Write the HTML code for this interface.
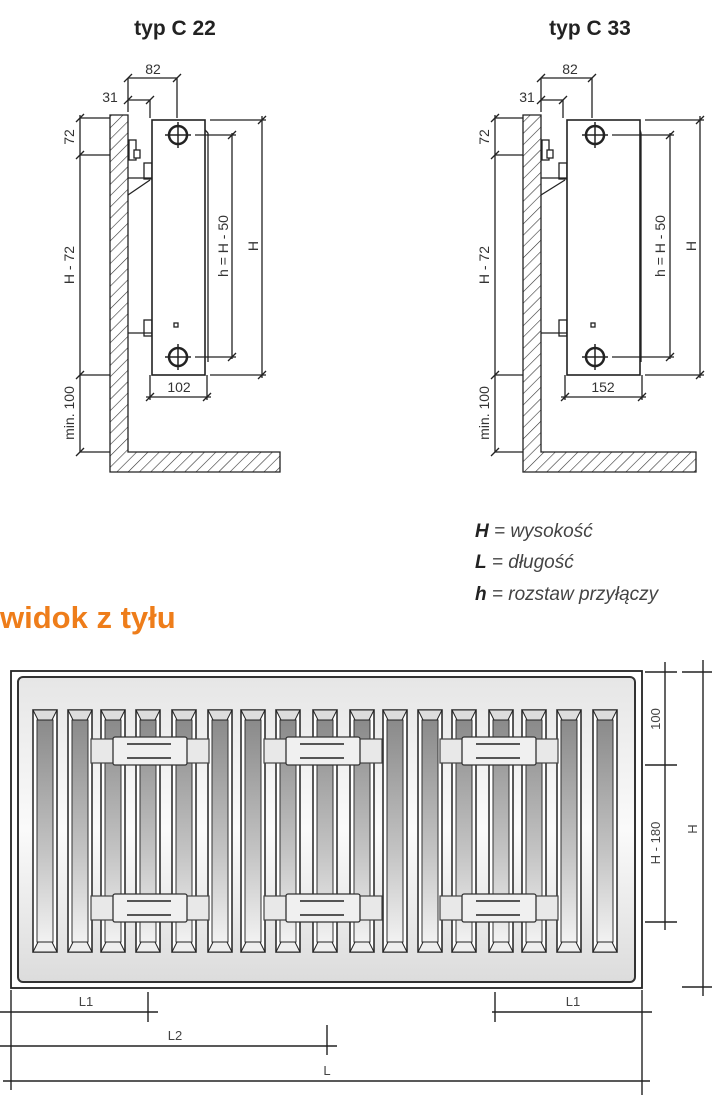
<!DOCTYPE html>
<html><head><meta charset="utf-8"><style>
html,body{margin:0;padding:0;background:#fff;}
svg{display:block;}
</style></head><body>
<svg width="720" height="1097" viewBox="0 0 720 1097" xmlns="http://www.w3.org/2000/svg">
<defs>
<pattern id="hatch" patternUnits="userSpaceOnUse" width="8" height="8" patternTransform="rotate(45)">
<line x1="0" y1="0" x2="0" y2="8" stroke="#333" stroke-width="1.2"/>
</pattern>
<linearGradient id="fin" x1="0" y1="0" x2="0" y2="1">
<stop offset="0" stop-color="#8a8a8a"/><stop offset="0.6" stop-color="#c4c4c4"/><stop offset="1" stop-color="#f2f2f2"/>
</linearGradient>
<linearGradient id="panel" x1="0" y1="0" x2="0" y2="1">
<stop offset="0" stop-color="#e6e6e6"/><stop offset="0.5" stop-color="#fafafa"/><stop offset="1" stop-color="#dcdcdc"/>
</linearGradient>
<symbol id="finS" overflow="visible">
<rect x="0" y="0" width="24" height="242" fill="#fff" stroke="#222" stroke-width="1.5"/>
<rect x="4" y="10" width="16" height="222" fill="url(#fin)" stroke="#333" stroke-width="1"/>
<path d="M0,0 L24,0 L19,10 L5,10 Z" fill="#ddd" stroke="#222" stroke-width="1"/>
<path d="M0,242 L24,242 L19,232 L5,232 Z" fill="#eee" stroke="#222" stroke-width="1"/>
</symbol>
<symbol id="brk" overflow="visible">
<rect x="0" y="2" width="118" height="24" fill="#e8e8e8" stroke="#444" stroke-width="1.2"/>
<rect x="22" y="0" width="74" height="28" rx="2" fill="#f0f0f0" stroke="#333" stroke-width="1.3"/>
<line x1="36" y1="7" x2="80" y2="7" stroke="#222" stroke-width="1.5"/>
<line x1="36" y1="21" x2="80" y2="21" stroke="#222" stroke-width="1.5"/>
</symbol>
<symbol id="pipe" overflow="visible">
<circle cx="0" cy="0" r="9" fill="none" stroke="#222" stroke-width="2.5"/>
<line x1="-13" y1="0" x2="13" y2="0" stroke="#222" stroke-width="1.5"/>
<line x1="0" y1="-13" x2="0" y2="13" stroke="#222" stroke-width="1.5"/>
</symbol>
</defs>

<g font-family="Liberation Sans, DejaVu Sans, sans-serif">
<text x="175" y="35" text-anchor="middle" font-size="21" font-weight="bold" fill="#222">typ C 22</text>
<text x="590" y="35" text-anchor="middle" font-size="21" font-weight="bold" fill="#222">typ C 33</text>
</g>

<g stroke="#222" stroke-width="1.3" fill="none" font-family="Liberation Sans, sans-serif">
<path d="M110,115 L128,115 L128,452 L280,452 L280,472 L110,472 Z" fill="url(#hatch)" stroke="#222"/>
<rect x="129" y="140" width="7" height="20" fill="#fff"/>
<rect x="134" y="150" width="6" height="8" fill="#fff"/>
<rect x="144" y="163" width="8" height="16" fill="#fff"/>
<line x1="128" y1="178" x2="152" y2="178"/>
<line x1="128" y1="195" x2="150" y2="180"/>
<rect x="144" y="320" width="8" height="16" fill="#fff"/>
<line x1="128" y1="333" x2="152" y2="333"/>
<rect x="152" y="120" width="53" height="255" fill="#fff" stroke-width="1.6"/>
<line x1="205" y1="130" x2="208" y2="133"/><line x1="208" y1="133" x2="208" y2="362"/>
<use href="#pipe" x="178" y="135"/>
<use href="#pipe" x="178" y="357"/>
<rect x="174" y="323" width="4" height="4"/>
<line x1="128" y1="78" x2="177" y2="78"/><line x1="128" y1="78" x2="128" y2="112"/><line x1="177" y1="78" x2="177" y2="118"/>
<line x1="124" y1="82" x2="132" y2="74"/><line x1="173" y1="82" x2="181" y2="74"/>
<line x1="128" y1="100" x2="150" y2="100"/><line x1="150" y1="100" x2="150" y2="118"/>
<line x1="124" y1="104" x2="132" y2="96"/><line x1="146" y1="104" x2="154" y2="96"/>
<line x1="80" y1="115" x2="80" y2="452"/>
<line x1="80" y1="118" x2="110" y2="118"/><line x1="80" y1="155" x2="110" y2="155"/>
<line x1="80" y1="375" x2="110" y2="375"/><line x1="80" y1="452" x2="110" y2="452"/>
<line x1="76" y1="122" x2="84" y2="114"/><line x1="76" y1="159" x2="84" y2="151"/>
<line x1="76" y1="379" x2="84" y2="371"/><line x1="76" y1="456" x2="84" y2="448"/>
<line x1="210" y1="120" x2="266" y2="120"/><line x1="262" y1="116" x2="262" y2="378"/><line x1="210" y1="375" x2="266" y2="375"/>
<line x1="258" y1="124" x2="266" y2="116"/><line x1="258" y1="379" x2="266" y2="371"/>
<line x1="195" y1="135" x2="236" y2="135"/><line x1="232" y1="133" x2="232" y2="359"/><line x1="195" y1="357" x2="236" y2="357"/>
<line x1="228" y1="139" x2="236" y2="131"/><line x1="228" y1="361" x2="236" y2="353"/>
<line x1="150" y1="375" x2="150" y2="400"/><line x1="207" y1="375" x2="207" y2="400"/><line x1="146" y1="397" x2="211" y2="397"/>
<line x1="146" y1="401" x2="154" y2="393"/><line x1="203" y1="401" x2="211" y2="393"/>
</g>
<g font-family="Liberation Sans, sans-serif" font-size="14" fill="#333">
<text x="153" y="74" text-anchor="middle">82</text>
<text x="110" y="102" text-anchor="middle">31</text>
<text x="179" y="392" text-anchor="middle">102</text>
<text transform="translate(74,137) rotate(-90)" text-anchor="middle">72</text>
<text transform="translate(74,265) rotate(-90)" text-anchor="middle">H - 72</text>
<text transform="translate(74,413) rotate(-90)" text-anchor="middle">min. 100</text>
<text transform="translate(228,246) rotate(-90)" text-anchor="middle">h = H - 50</text>
<text transform="translate(258,246) rotate(-90)" text-anchor="middle">H</text>
</g>

<g stroke="#222" stroke-width="1.3" fill="none" font-family="Liberation Sans, sans-serif">
<path d="M523,115 L541,115 L541,452 L696,452 L696,472 L523,472 Z" fill="url(#hatch)" stroke="#222"/>
<rect x="542" y="140" width="7" height="20" fill="#fff"/>
<rect x="547" y="150" width="6" height="8" fill="#fff"/>
<rect x="559" y="163" width="8" height="16" fill="#fff"/>
<line x1="541" y1="178" x2="567" y2="178"/>
<line x1="541" y1="195" x2="565" y2="180"/>
<rect x="559" y="320" width="8" height="16" fill="#fff"/>
<line x1="541" y1="333" x2="567" y2="333"/>
<rect x="567" y="120" width="73" height="255" fill="#fff" stroke-width="1.6"/>
<line x1="640" y1="130" x2="641" y2="133"/><line x1="641" y1="133" x2="641" y2="362"/>
<use href="#pipe" x="595" y="135"/>
<use href="#pipe" x="595" y="357"/>
<rect x="591" y="323" width="4" height="4"/>
<line x1="541" y1="78" x2="592" y2="78"/><line x1="541" y1="78" x2="541" y2="112"/><line x1="592" y1="78" x2="592" y2="118"/>
<line x1="537" y1="82" x2="545" y2="74"/><line x1="588" y1="82" x2="596" y2="74"/>
<line x1="541" y1="100" x2="563" y2="100"/><line x1="563" y1="100" x2="563" y2="118"/>
<line x1="537" y1="104" x2="545" y2="96"/><line x1="559" y1="104" x2="567" y2="96"/>
<line x1="495" y1="115" x2="495" y2="452"/>
<line x1="495" y1="118" x2="523" y2="118"/><line x1="495" y1="155" x2="523" y2="155"/>
<line x1="495" y1="375" x2="523" y2="375"/><line x1="495" y1="452" x2="523" y2="452"/>
<line x1="491" y1="122" x2="499" y2="114"/><line x1="491" y1="159" x2="499" y2="151"/>
<line x1="491" y1="379" x2="499" y2="371"/><line x1="491" y1="456" x2="499" y2="448"/>
<line x1="645" y1="120" x2="704" y2="120"/><line x1="700" y1="116" x2="700" y2="378"/><line x1="645" y1="375" x2="704" y2="375"/>
<line x1="696" y1="124" x2="704" y2="116"/><line x1="696" y1="379" x2="704" y2="371"/>
<line x1="612" y1="135" x2="674" y2="135"/><line x1="670" y1="133" x2="670" y2="359"/><line x1="612" y1="357" x2="674" y2="357"/>
<line x1="666" y1="139" x2="674" y2="131"/><line x1="666" y1="361" x2="674" y2="353"/>
<line x1="565" y1="375" x2="565" y2="400"/><line x1="642" y1="375" x2="642" y2="400"/><line x1="561" y1="397" x2="646" y2="397"/>
<line x1="561" y1="401" x2="569" y2="393"/><line x1="638" y1="401" x2="646" y2="393"/>
</g>
<g font-family="Liberation Sans, sans-serif" font-size="14" fill="#333">
<text x="570" y="74" text-anchor="middle">82</text>
<text x="527" y="102" text-anchor="middle">31</text>
<text x="603" y="392" text-anchor="middle">152</text>
<text transform="translate(489,137) rotate(-90)" text-anchor="middle">72</text>
<text transform="translate(489,265) rotate(-90)" text-anchor="middle">H - 72</text>
<text transform="translate(489,413) rotate(-90)" text-anchor="middle">min. 100</text>
<text transform="translate(665,246) rotate(-90)" text-anchor="middle">h = H - 50</text>
<text transform="translate(696,246) rotate(-90)" text-anchor="middle">H</text>
</g>

<g font-family="Liberation Sans, sans-serif" font-size="19" font-style="italic" fill="#444">
<text x="475" y="537"><tspan font-weight="bold" fill="#222">H</tspan> = wysokość</text>
<text x="475" y="568"><tspan font-weight="bold" fill="#222">L</tspan> = długość</text>
<text x="475" y="600"><tspan font-weight="bold" fill="#222">h</tspan> = rozstaw przyłączy</text>
</g>
<text x="0" y="628" font-family="Liberation Sans, sans-serif" font-size="31" font-weight="bold" fill="#ee7d1a">widok z tyłu</text>

<rect x="11" y="671" width="631" height="317" fill="#fff" stroke="#222" stroke-width="1.8"/>
<rect x="18" y="677" width="617" height="305" rx="5" fill="url(#panel)" stroke="#333" stroke-width="2"/>
<g>
<use href="#finS" x="33" y="710"/><use href="#finS" x="68" y="710"/><use href="#finS" x="101" y="710"/>
<use href="#finS" x="136" y="710"/><use href="#finS" x="172" y="710"/><use href="#finS" x="208" y="710"/>
<use href="#finS" x="241" y="710"/><use href="#finS" x="276" y="710"/><use href="#finS" x="313" y="710"/>
<use href="#finS" x="350" y="710"/><use href="#finS" x="383" y="710"/><use href="#finS" x="418" y="710"/>
<use href="#finS" x="452" y="710"/><use href="#finS" x="489" y="710"/><use href="#finS" x="522" y="710"/>
<use href="#finS" x="557" y="710"/><use href="#finS" x="593" y="710"/>
</g>
<use href="#brk" x="91" y="737"/><use href="#brk" x="264" y="737"/><use href="#brk" x="440" y="737"/>
<use href="#brk" x="91" y="894"/><use href="#brk" x="264" y="894"/><use href="#brk" x="440" y="894"/>

<g stroke="#222" stroke-width="1.4" fill="none">
<line x1="665" y1="662" x2="665" y2="930"/>
<line x1="645" y1="672" x2="677" y2="672"/><line x1="645" y1="765" x2="677" y2="765"/><line x1="645" y1="922" x2="677" y2="922"/>
<line x1="703" y1="660" x2="703" y2="996"/>
<line x1="682" y1="672" x2="712" y2="672"/><line x1="682" y1="987" x2="712" y2="987"/>
<line x1="11" y1="990" x2="11" y2="1090"/>
<line x1="642" y1="990" x2="642" y2="1095"/>
<line x1="148" y1="992" x2="148" y2="1022"/>
<line x1="495" y1="992" x2="495" y2="1022"/>
<line x1="327" y1="1025" x2="327" y2="1055"/>
<line x1="0" y1="1012" x2="158" y2="1012"/>
<line x1="492" y1="1012" x2="652" y2="1012"/>
<line x1="0" y1="1046" x2="337" y2="1046"/>
<line x1="3" y1="1081" x2="650" y2="1081"/>
</g>
<g font-family="Liberation Sans, sans-serif" font-size="13" fill="#444">
<text transform="translate(660,719) rotate(-90)" text-anchor="middle">100</text>
<text transform="translate(660,843) rotate(-90)" text-anchor="middle">H - 180</text>
<text transform="translate(697,829) rotate(-90)" text-anchor="middle">H</text>
<text x="86" y="1006" text-anchor="middle">L1</text>
<text x="573" y="1006" text-anchor="middle">L1</text>
<text x="175" y="1040" text-anchor="middle">L2</text>
<text x="327" y="1075" text-anchor="middle">L</text>
</g>
</svg>
</body></html>
